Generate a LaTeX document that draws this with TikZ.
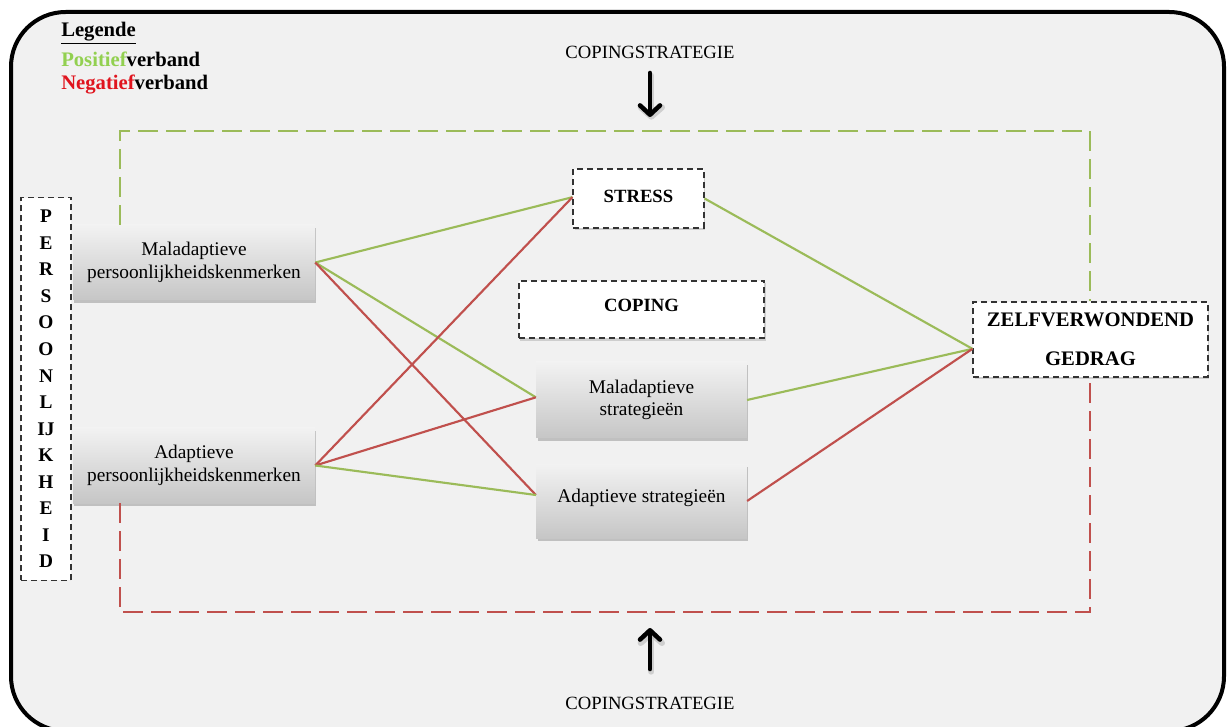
\documentclass[tikz,border=0pt]{standalone}
\usepackage{fontspec}
\setmainfont{Liberation Serif}
\usetikzlibrary{arrows.meta,shadows}
\definecolor{panel}{HTML}{F1F1F1}
\definecolor{posgreen}{HTML}{9BBB59}
\definecolor{negred}{HTML}{C0504D}
\definecolor{legendgreen}{HTML}{92D050}
\definecolor{legendred}{HTML}{E0141E}
\definecolor{boxtop}{HTML}{F2F2F2}
\definecolor{boxbottom}{HTML}{C6C6C6}
\begin{document}
\begin{tikzpicture}[x=0.75pt,y=-0.75pt,
  gradbox/.style={rectangle, inner sep=0pt, align=center,
    top color=boxtop, bottom color=boxbottom, draw=none,
    drop shadow={shadow xshift=1pt, shadow yshift=-2pt, opacity=0.35, fill=black!60},
    font=\fontsize{14.5}{17}\selectfont},
  dashbox/.style={rectangle, inner sep=0pt, align=center, fill=white,
    draw=black!80, line width=1.1pt, dash pattern=on 4.5pt off 3pt,
    drop shadow={shadow xshift=1pt, shadow yshift=-2pt, opacity=0.3, fill=black!50}},
  poslink/.style={posgreen, line width=1.6pt},
  neglink/.style={negred, line width=1.6pt},
  posframe/.style={posgreen, line width=2.2pt, dash pattern=on 15pt off 6pt},
  negframe/.style={negred, line width=2.2pt, dash pattern=on 15pt off 6pt},
  bigarrow/.style={line width=3.4pt, line cap=round,
    -{Straight Barb[length=7pt,width=15pt,line join=round,line cap=round]}},
  arrowshade/.style={line width=4.5pt, black!35, opacity=0.45, line cap=round,
    -{Straight Barb[length=7pt,width=16pt,line join=round,line cap=round]}},
  capslabel/.style={font=\fontsize{14}{16}\selectfont},
  legendtext/.style={anchor=west, inner sep=0pt, font=\fontsize{15.5}{18}\bfseries\selectfont}
]
\useasboundingbox (0,0) rectangle (1229,727);
\clip (0,0) rectangle (1229,727);

% outer frame
\draw[line width=3pt, fill=panel, rounded corners=41pt] (11,12) rectangle (1224,731);

% legend
\node[legendtext] (legtitle) at (61,33) {\underline{Legende}};
\node[legendtext] (legpos) at (61,59) {\textcolor{legendgreen}{Positief}verband};
\node[legendtext] (legneg) at (61,85) {\textcolor{legendred}{Negatief}verband};

% coping strategy labels
\node[capslabel] (coptop) at (650,52) {COPINGSTRATEGIE};
\node[capslabel] (copbot) at (650,703) {COPINGSTRATEGIE};
\coordinate (toparrA) at (650,73);
\coordinate (toparrB) at (650,117);
\coordinate (botarrA) at (650,669);
\coordinate (botarrB) at (650,628);
\draw[arrowshade] ([xshift=1pt,yshift=-2pt]toparrA) -- ([xshift=1pt,yshift=-2pt]toparrB);
\draw[arrowshade] ([xshift=1pt,yshift=-2pt]botarrA) -- ([xshift=1pt,yshift=-2pt]botarrB);
\draw[bigarrow] (toparrA) -- (toparrB);
\draw[bigarrow] (botarrA) -- (botarrB);

% personality column
\node[rectangle, draw=black!80, line width=1.1pt, dash pattern=on 4.5pt off 3pt, fill=white,
      minimum width=37.5pt, minimum height=287pt, inner sep=0pt, align=center,
      font=\fontsize{14.5}{19.9}\bfseries\selectfont] (pers) at (46,389)
  {P\\E\\R\\S\\O\\O\\N\\L\\IJ\\K\\H\\E\\I\\D};

% boxes
\node[gradbox, minimum width=181.5pt, minimum height=56.25pt] (malP) at (194,262.5)
  {Maladaptieve\\persoonlijkheidskenmerken};
\node[gradbox, minimum width=181.5pt, minimum height=56.25pt] (adP) at (194,465.5)
  {Adaptieve\\persoonlijkheidskenmerken};
\node[gradbox, minimum width=158pt, minimum height=57pt] (malS) at (641.5,400)
  {Maladaptieve\\strategieën};
\node[gradbox, minimum width=158pt, minimum height=55.5pt] (adS) at (641.5,501)
  {\raisebox{8pt}{Adaptieve strategieën}};

\node[dashbox, minimum width=98pt, minimum height=44pt,
      font=\fontsize{14}{16}\bfseries\selectfont] (stress) at (638.5,198.5)
  {\raisebox{4pt}{STRESS}};
\node[dashbox, minimum width=184pt, minimum height=43pt,
      font=\fontsize{14}{16}\bfseries\selectfont] (coping) at (641.5,309.5)
  {\raisebox{6pt}{COPING}};
\node[dashbox, minimum width=176pt, minimum height=56pt,
      font=\fontsize{15.5}{17}\bfseries\selectfont] (zelf) at (1090.5,339.5)
  {\raisebox{1pt}{ZELFVERWONDEND}\\[11pt]GEDRAG};

% outer feedback frames
\coordinate (gL) at (120,131);
\coordinate (gR) at (1090,131);
\coordinate (rL) at (120,612);
\coordinate (rR) at (1090,612);
\draw[posframe] (malP.north -| gL) -- (gL) -- (gR) -- (zelf.north -| gR);
\draw[negframe] (adP.south -| rL) -- (rL) -- (rR) -- (zelf.south -| rR);

% associations
\draw[poslink] (malP.east) -- ([yshift=1pt]stress.west);
\draw[poslink] (malP.east) -- ([yshift=2pt]malS.west);
\draw[neglink] (malP.east) -- ([yshift=4.5pt]adS.west);
\draw[neglink] (adP.east) -- ([yshift=1pt]stress.west);
\draw[neglink] (adP.east) -- ([yshift=2pt]malS.west);
\draw[poslink] (adP.east) -- ([yshift=4.5pt]adS.west);
\draw[poslink] (stress.east) -- ([yshift=-7pt]zelf.west);
\draw[poslink] (malS.east) -- ([yshift=-7pt]zelf.west);
\draw[neglink] (adS.east) -- ([yshift=-7pt]zelf.west);
\end{tikzpicture}
\end{document}
